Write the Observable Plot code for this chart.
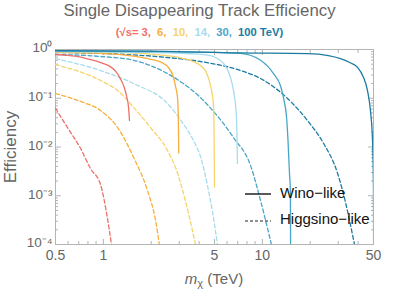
<!DOCTYPE html>
<html><head><meta charset="utf-8">
<script src="https://cdn.jsdelivr.net/npm/d3@7"></script>
<script src="https://cdn.jsdelivr.net/npm/@observablehq/plot@0.6"></script>
<style>
body{margin:0;background:#fff;font-family:"Liberation Sans",Arial,sans-serif;}
#wrap{position:relative;width:399px;height:292px;overflow:hidden;}
#chart{position:absolute;left:0;top:0;}
.ov{position:absolute;white-space:nowrap;line-height:1;}
</style></head><body>
<div id="wrap">
<div id="chart"></div>
<div class="ov" id="title" style="left:0;width:399px;top:3px;text-align:center;font-size:16.8px;color:#666;">Single Disappearing Track Efficiency</div>
<div class="ov" id="sub" style="left:0;width:399px;top:27px;text-align:center;font-size:11.2px;font-weight:bold;"></div>
<div class="ov" id="ylab" style="left:10px;top:147px;transform:translate(-50%,-50%) rotate(-90deg);font-size:17px;color:#666;">Efficiency</div>
<div class="ov" id="xlab" style="left:214px;top:280px;transform:translate(-50%,-50%);font-size:15px;color:#666;"><i>m</i><sub style="font-size:11px;vertical-align:-3px">χ</sub> (TeV)</div>
<svg class="ov" style="left:244px;top:189px" width="28" height="10"><line x1="1" x2="27" y1="5" y2="5" stroke="#222" stroke-width="1.5"/></svg>
<div class="ov" style="left:280px;top:185px;font-size:15px;color:#111;">Wino−like</div>
<svg class="ov" style="left:244px;top:216px" width="28" height="10"><line x1="1" x2="27" y1="5" y2="5" stroke="#222" stroke-width="1.2" stroke-dasharray="3,2"/></svg>
<div class="ov" style="left:280px;top:211px;font-size:15px;color:#111;">Higgsino−like</div>
</div>
<script>
// Collider energies (TeV) and subtitle labels
const energies = ["3", "6", "10", "14", "30", "100"];
const subLabels = ["(√s= 3,", "6,", "10,", "14,", "30,", "100 TeV)"];
const palette = ["#EE7068", "#F9AE3C", "#F5D36C", "#A6DCEF", "#4AA6C8", "#1B7BA0"];

// Axis ticks
const xTicks = [0.5, 1, 5, 10, 50];
const xTickLabels = ["0.5", "1", "5", "10", "50"];
const xMinor = [0.6, 0.7, 0.8, 0.9, 2, 3, 4, 6, 7, 8, 9, 20, 30, 40];
const yTicks = [1e-4, 1e-3, 1e-2, 1e-1, 1];
const yTickLabels = ["10⁻⁴", "10⁻³", "10⁻²", "10⁻¹", "10⁰"];
const yMinor = [2,3,4,5,6,7,8,9].flatMap(k => [1e-4, 1e-3, 1e-2, 1e-1].map(d => k * d));

// Wino-like (solid): [mass TeV, efficiency]
const wino3 = [[0.5,0.79],[0.6,0.76],[0.72,0.70],[0.83,0.62],[0.96,0.54],[1.1,0.45],[1.2,0.35],[1.28,0.25],[1.35,0.17],[1.4,0.11],[1.44,0.065],[1.46,0.035]];
const wino6 = [[0.5,0.87],[0.96,0.83],[1.5,0.74],[1.98,0.63],[2.3,0.55],[2.53,0.45],[2.76,0.27],[2.85,0.17],[2.93,0.10],[2.96,0.04],[2.98,0.0075]];
const wino10 = [[0.5,0.9],[1,0.88],[2,0.8],[3.15,0.66],[3.7,0.56],[4.08,0.47],[4.4,0.36],[4.6,0.25],[4.8,0.14],[4.93,0.07],[4.97,0.02],[5.0,0.0015]];
const wino14 = [[0.5,0.91],[2,0.87],[4,0.8],[4.72,0.75],[5.3,0.63],[5.7,0.52],[6.3,0.27],[6.58,0.145],[6.8,0.065],[6.9,0.03],[6.97,0.0046]];
const wino30 = [[0.5,0.93],[2,0.91],[5,0.87],[7.28,0.83],[9.74,0.6],[11.75,0.32],[13.0,0.18],[13.6,0.1],[14.2,0.04],[14.5,0.0135],[14.8,0.003],[15,0.0013],[15.05,0.0001]];
const wino100 = [[0.5,0.95],[2,0.93],[7.28,0.85],[19.2,0.82],[26,0.75],[31,0.65],[36,0.53],[39.7,0.43],[43,0.28],[45.8,0.145],[48,0.05],[49.3,0.0135],[50,0.0013],[50.1,0.0001]];

// Higgsino-like (dashed)
const higgs3 = [[0.5,0.062],[0.595,0.025],[0.718,0.0094],[0.83,0.0036],[0.96,0.0017],[1.06,0.00035],[1.125,0.0001]];
const higgs6 = [[0.5,0.125],[0.718,0.086],[0.96,0.056],[1.23,0.025],[1.55,0.0061],[1.89,0.0013],[2.13,0.00031],[2.25,0.0001]];
const higgs10 = [[0.5,0.49],[0.96,0.231],[1.23,0.144],[1.55,0.065],[1.98,0.025],[2.53,0.0085],[2.93,0.0029],[3.15,0.0013],[3.5,0.00033],[3.8,0.0001]];
const higgs14 = [[0.5,0.65],[0.96,0.37],[1.55,0.2],[2.53,0.078],[3.18,0.03],[3.69,0.0135],[4.08,0.0064],[4.52,0.0016],[4.86,0.00046],[5.22,0.0001]];
const higgs30 = [[0.5,0.79],[0.96,0.72],[1.55,0.6],[2.53,0.32],[4.08,0.103],[6.58,0.0156],[8.42,0.0042],[9.74,0.0008],[11.4,0.0001]];
const higgs100 = [[0.5,0.87],[0.96,0.83],[2.53,0.685],[4.08,0.567],[7.28,0.371],[9.74,0.254],[14.4,0.099],[19.2,0.035],[24.3,0.0118],[29.7,0.0029],[31.9,0.0013],[38,0.0001]];

const winoSets = [wino3, wino6, wino10, wino14, wino30, wino100];
const higgsSets = [higgs3, higgs6, higgs10, higgs14, higgs30, higgs100];

const rows = (sets, type) => sets.flatMap((s, i) => s.map(([m, e]) => ({m, e, energy: energies[i], type})));
const wino = rows(winoSets, "wino");
const higgs = rows(higgsSets, "higgs");

const sub = document.getElementById("sub");
sub.innerHTML = subLabels.map((t, i) => `<span style="color:${palette[i]}">${t}</span>`).join(" &nbsp;");

const gray = "#b4b4b4";
const textGray = "#666";
const chart = Plot.plot({
  width: 399, height: 292,
  marginTop: 49, marginBottom: 48, marginLeft: 55, marginRight: 26,
  style: {fontFamily: "'Liberation Sans', Arial, sans-serif", background: "transparent"},
  x: {type: "log", domain: [0.5, 50], axis: null},
  y: {type: "log", domain: [1e-4, 1], axis: null},
  color: {domain: energies, range: palette},
  marks: [
    Plot.axisX(xMinor, {anchor: "bottom", tickSize: -3, fill: "none", stroke: gray, label: null}),
    Plot.axisX(xTicks, {anchor: "bottom", tickSize: -5, fill: "none", stroke: gray, label: null}),
    Plot.axisX(xMinor, {anchor: "top", tickSize: -3, fill: "none", stroke: gray, label: null}),
    Plot.axisX(xTicks, {anchor: "top", tickSize: -5, fill: "none", stroke: gray, label: null}),
    Plot.axisY(yMinor, {anchor: "left", tickSize: -3, fill: "none", stroke: gray, label: null}),
    Plot.axisY(yTicks, {anchor: "left", tickSize: -6, fill: "none", stroke: gray, label: null}),
    Plot.axisY(yMinor, {anchor: "right", tickSize: -3, fill: "none", stroke: gray, label: null}),
    Plot.axisY(yTicks, {anchor: "right", tickSize: -6, fill: "none", stroke: gray, label: null}),
    Plot.text(xTicks, {x: d => d, frameAnchor: "bottom", dy: 15.5, fontSize: 14, fill: textGray,
      text: (d, i) => xTickLabels[i]}),
    Plot.text(yTicks, {y: d => d, frameAnchor: "left", dx: -3, dy: -1.5, textAnchor: "end", fontSize: 13.5, fill: textGray,
      text: (d, i) => yTickLabels[i]}),
    Plot.frame({stroke: gray}),
    Plot.line(higgs, {x: "m", y: "e", z: "energy", stroke: "energy", strokeWidth: 1.3, strokeDasharray: "4,2.5", curve: "monotone-x", clip: true}),
    Plot.line(wino, {x: "m", y: "e", z: "energy", stroke: "energy", strokeWidth: 1.3, curve: "monotone-x", clip: true})
  ]
});
document.getElementById("chart").appendChild(chart);
</script>
</body></html>
